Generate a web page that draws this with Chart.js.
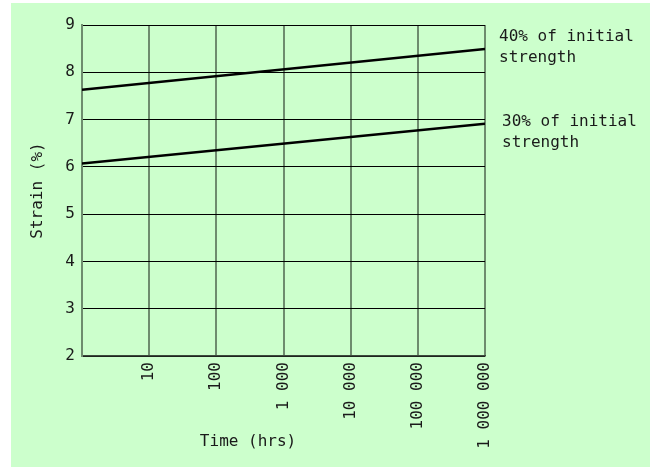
<!DOCTYPE html>
<html>
<head>
<meta charset="utf-8">
<script src="https://cdn.jsdelivr.net/npm/chart.js@4"></script>
<style>
  html, body { margin: 0; padding: 0; background: #ffffff; }
  #c { display: block; }
</style>
</head>
<body>
<canvas id="c" width="650" height="467"></canvas>
<script>
// Creep strain against time (log scale) for two load levels
const hours = [1, 1000000];
const strain40 = [7.63, 8.49];
const strain30 = [6.07, 6.91];

const timeTicks = [1, 10, 100, 1000, 10000, 100000, 1000000];
const timeTickLabels = ['', '10', '100', '1 000', '10 000', '100 000', '1 000 000'];
const strainTicks = [2, 3, 4, 5, 6, 7, 8, 9];

const seriesNames = [['40% of initial', 'strength'], ['30% of initial', 'strength']];
const nameLevels = [8.75, 6.96];
const xTitle = 'Time (hrs)';
const yTitle = 'Strain (%)';

const FONT = '"DejaVu Sans Mono", monospace';
const INK = '#1a1a1a';
const GREEN_BG = '#ccffcc';
const GRID_V = '#6e8c6e';

const toPoints = (xs, ys) => xs.map((x, i) => ({ x: x, y: ys[i] }));

const background = {
  id: 'background',
  beforeDraw(chart) {
    const ctx = chart.ctx;
    ctx.save();
    ctx.fillStyle = GREEN_BG;
    ctx.fillRect(11, 3, chart.width - 11, chart.height - 3);
    ctx.restore();
  }
};

const annotations = {
  id: 'annotations',
  afterDraw(chart) {
    const ctx = chart.ctx;
    const area = chart.chartArea;
    const y = chart.scales.y;
    ctx.save();
    ctx.fillStyle = INK;
    ctx.font = '16px ' + FONT;
    ctx.textBaseline = 'middle';
    ctx.textAlign = 'left';
    const offsets = [14, 17];
    seriesNames.forEach((lines, i) => {
      const top = y.getPixelForValue(nameLevels[i]);
      lines.forEach((t, j) => ctx.fillText(t, area.right + offsets[i], top + j * 21));
    });
    ctx.textAlign = 'center';
    ctx.fillText(xTitle, area.left + 0.412 * (area.right - area.left), area.bottom + 86);
    ctx.restore();
  }
};

new Chart(document.getElementById('c'), {
  type: 'line',
  data: {
    datasets: [
      {
        label: seriesNames[0].join(' '),
        data: toPoints(hours, strain40),
        borderColor: '#000000',
        borderWidth: 2.5,
        pointRadius: 0,
        fill: false,
        tension: 0
      },
      {
        label: seriesNames[1].join(' '),
        data: toPoints(hours, strain30),
        borderColor: '#000000',
        borderWidth: 2.5,
        pointRadius: 0,
        fill: false,
        tension: 0
      }
    ]
  },
  options: {
    responsive: false,
    animation: false,
    devicePixelRatio: 1,
    layout: { padding: { top: 25, right: 165, bottom: 0, left: 0 } },
    plugins: {
      legend: { display: false },
      tooltip: { enabled: false }
    },
    scales: {
      x: {
        type: 'logarithmic',
        min: 1,
        max: 1000000,
        afterBuildTicks(scale) {
          scale.ticks = timeTicks.map(v => ({ value: v }));
        },
        afterFit(scale) { scale.height = 111; },
        ticks: {
          autoSkip: false,
          minRotation: 90,
          maxRotation: 90,
          padding: 6,
          color: INK,
          font: { family: FONT, size: 16 },
          callback: (v) => timeTickLabels[timeTicks.indexOf(v)]
        },
        grid: { color: GRID_V, lineWidth: 2, drawTicks: false },
        border: { color: '#3c4a3c', width: 1.5 }
      },
      y: {
        min: 2,
        max: 9,
        afterBuildTicks(scale) {
          scale.ticks = strainTicks.map(v => ({ value: v }));
        },
        afterFit(scale) { scale.width = 82; },
        ticks: {
          padding: 7,
          color: INK,
          font: { family: FONT, size: 16 }
        },
        grid: { color: '#000000', lineWidth: 1, drawTicks: false },
        border: { color: GRID_V, width: 2 },
        title: {
          display: true,
          text: yTitle,
          color: INK,
          font: { family: FONT, size: 16 },
          padding: { top: 28, bottom: 0 }
        }
      }
    }
  },
  plugins: [background, annotations]
});
</script>
</body>
</html>
